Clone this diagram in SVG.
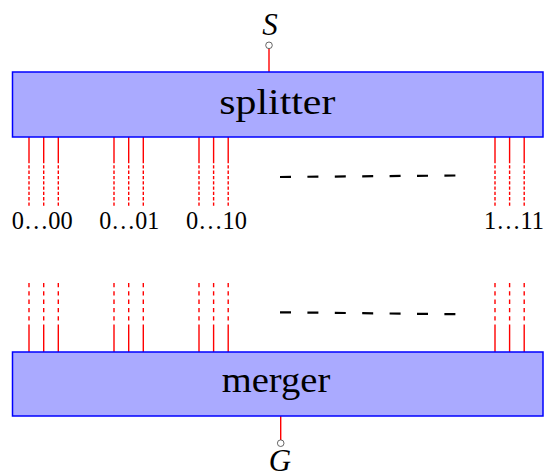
<svg xmlns="http://www.w3.org/2000/svg" width="544" height="473" viewBox="0 0 544 473">
<style>
.box{fill:#aaaaff;stroke:#0000ff;stroke-width:1.5}
.big{font-family:"Liberation Serif",serif;font-size:35px;fill:#000;text-anchor:middle}
.var{font-family:"Liberation Serif",serif;font-style:italic;font-size:31px;fill:#000;text-anchor:middle}
.lbl{font-family:"Liberation Serif",serif;font-size:24.5px;fill:#000}
.w{stroke:#ff0000;stroke-width:1.4;fill:none}
.dt{stroke:#ff0000;stroke-width:1.4;fill:none;stroke-dasharray:3.3 2}
.db{stroke:#ff0000;stroke-width:1.4;fill:none;stroke-dasharray:4.3 4}
.term{fill:#fff;stroke:#555;stroke-width:0.9}
.dots{stroke:#000;stroke-width:2.2;stroke-dasharray:11 16.4;fill:none}
</style>
<defs>
<g id="topwire"><line class="w" x1="0" y1="137" x2="0" y2="160"/><line class="dt" x1="0" y1="160" x2="0" y2="207"/></g>
<g id="botwire"><line class="db" x1="0" y1="283" x2="0" y2="328"/><line class="w" x1="0" y1="328" x2="0" y2="352"/></g>
</defs>
<g id="connectors">
<line class="w" x1="269" y1="72" x2="269" y2="48.5"/>
<line class="w" x1="280.7" y1="416" x2="280.7" y2="440"/>
<use href="#topwire" x="29"/><use href="#topwire" x="43.7"/><use href="#topwire" x="58.3"/>
<use href="#topwire" x="114"/><use href="#topwire" x="128.7"/><use href="#topwire" x="143.3"/>
<use href="#topwire" x="199"/><use href="#topwire" x="213.6"/><use href="#topwire" x="228.2"/>
<use href="#topwire" x="495"/><use href="#topwire" x="509.6"/><use href="#topwire" x="524.2"/>
<use href="#botwire" x="29"/><use href="#botwire" x="43.7"/><use href="#botwire" x="58.3"/>
<use href="#botwire" x="114"/><use href="#botwire" x="128.7"/><use href="#botwire" x="143.3"/>
<use href="#botwire" x="199"/><use href="#botwire" x="213.6"/><use href="#botwire" x="228.2"/>
<use href="#botwire" x="495"/><use href="#botwire" x="509.6"/><use href="#botwire" x="524.2"/>
</g>
<g id="ellipsis-top"><line class="dots" x1="280" y1="177" x2="455.5" y2="175.5"/></g>
<g id="ellipsis-bottom"><line class="dots" x1="280" y1="312.3" x2="455.5" y2="314.2"/></g>
<g id="splitter">
<rect class="box" x="12.5" y="72" width="530.5" height="65"/>
<text class="big" x="277.3" y="114.3" textLength="116" lengthAdjust="spacingAndGlyphs">splitter</text>
</g>
<g id="merger">
<rect class="box" x="12.5" y="352" width="530.5" height="64"/>
<text class="big" x="276" y="391.7" textLength="108.5" lengthAdjust="spacingAndGlyphs">merger</text>
</g>
<g id="S">
<circle class="term" cx="269" cy="45.3" r="3.3"/>
<text class="var" x="270" y="35">S</text>
</g>
<g id="G">
<circle class="term" cx="280.7" cy="443.2" r="3.3"/>
<text class="var" x="280" y="470.5">G</text>
</g>
<g id="labels">
<text class="lbl" x="11.7" y="229.3" textLength="61" lengthAdjust="spacingAndGlyphs">0…00</text>
<text class="lbl" x="99.3" y="229.3" textLength="60" lengthAdjust="spacingAndGlyphs">0…01</text>
<text class="lbl" x="186" y="229.3" textLength="61" lengthAdjust="spacingAndGlyphs">0…10</text>
<text class="lbl" x="484" y="229.3" textLength="60" lengthAdjust="spacingAndGlyphs">1…11</text>
</g>
</svg>
